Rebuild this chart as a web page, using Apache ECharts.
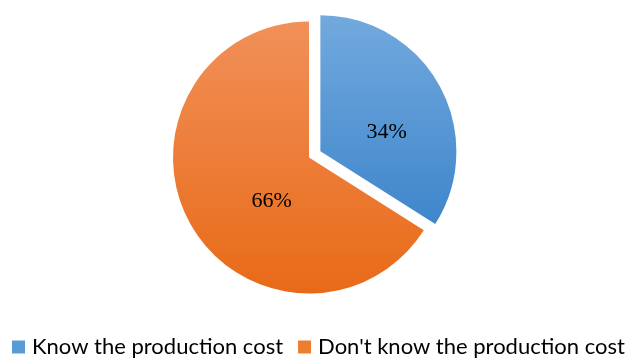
<!DOCTYPE html>
<html><head><meta charset="utf-8">
<script src="https://cdn.jsdelivr.net/npm/echarts@6/dist/echarts.min.js"></script>
<style>html,body{margin:0;padding:0;background:#fff}#c{width:627px;height:358px}</style>
</head><body><div id="c"></div>
<script>
var categories = ["Know the production cost", "Don't know the production cost"];
var values = [34, 66];
var labelTexts = ["34%", "66%"];
var chart = echarts.init(document.getElementById('c'));
var grads = [
  new echarts.graphic.LinearGradient(0,0,0,1,[{offset:0,color:'#72A9DE'},{offset:1,color:'#3F86CB'}]),
  new echarts.graphic.LinearGradient(0,0,0,1,[{offset:0,color:'#F19059'},{offset:1,color:'#E86A17'}])
];
var labelShift = [[4,15],[25,10]];
chart.setOption({
  animation:false,
  color:['#5B9BD5','#ED7D31'],
  legend:{
    bottom:0, left:12, width:615, padding:0, itemWidth:13, itemHeight:13, itemGap:15,
    icon:'rect',
    textStyle:{fontFamily:'Lato', fontSize:22, color:'#000', padding:[0,0,0,2]},
    data: categories.map(function(n,i){return {name:n, itemStyle:{color:['#5B9BD5','#ED7D31'][i]}};})
  },
  series:[{
    type:'pie',
    center:[309,157.5],
    radius:136,
    startAngle:90,
    clockwise:true,
    selectedMode:'single',
    selectedOffset:13,
    label:{position:'inside', fontFamily:'Liberation Serif', fontSize:22, color:'#000',
      formatter:function(p){return labelTexts[p.dataIndex];}},
    labelLine:{show:false},
    labelLayout:function(p){return {dx:labelShift[p.dataIndex][0], dy:labelShift[p.dataIndex][1]};},
    emphasis:{disabled:true},
    data: categories.map(function(n,i){
      return {name:n, value:values[i], selected:i===0, itemStyle:{color:grads[i]}};
    })
  }]
});
</script></body></html>
